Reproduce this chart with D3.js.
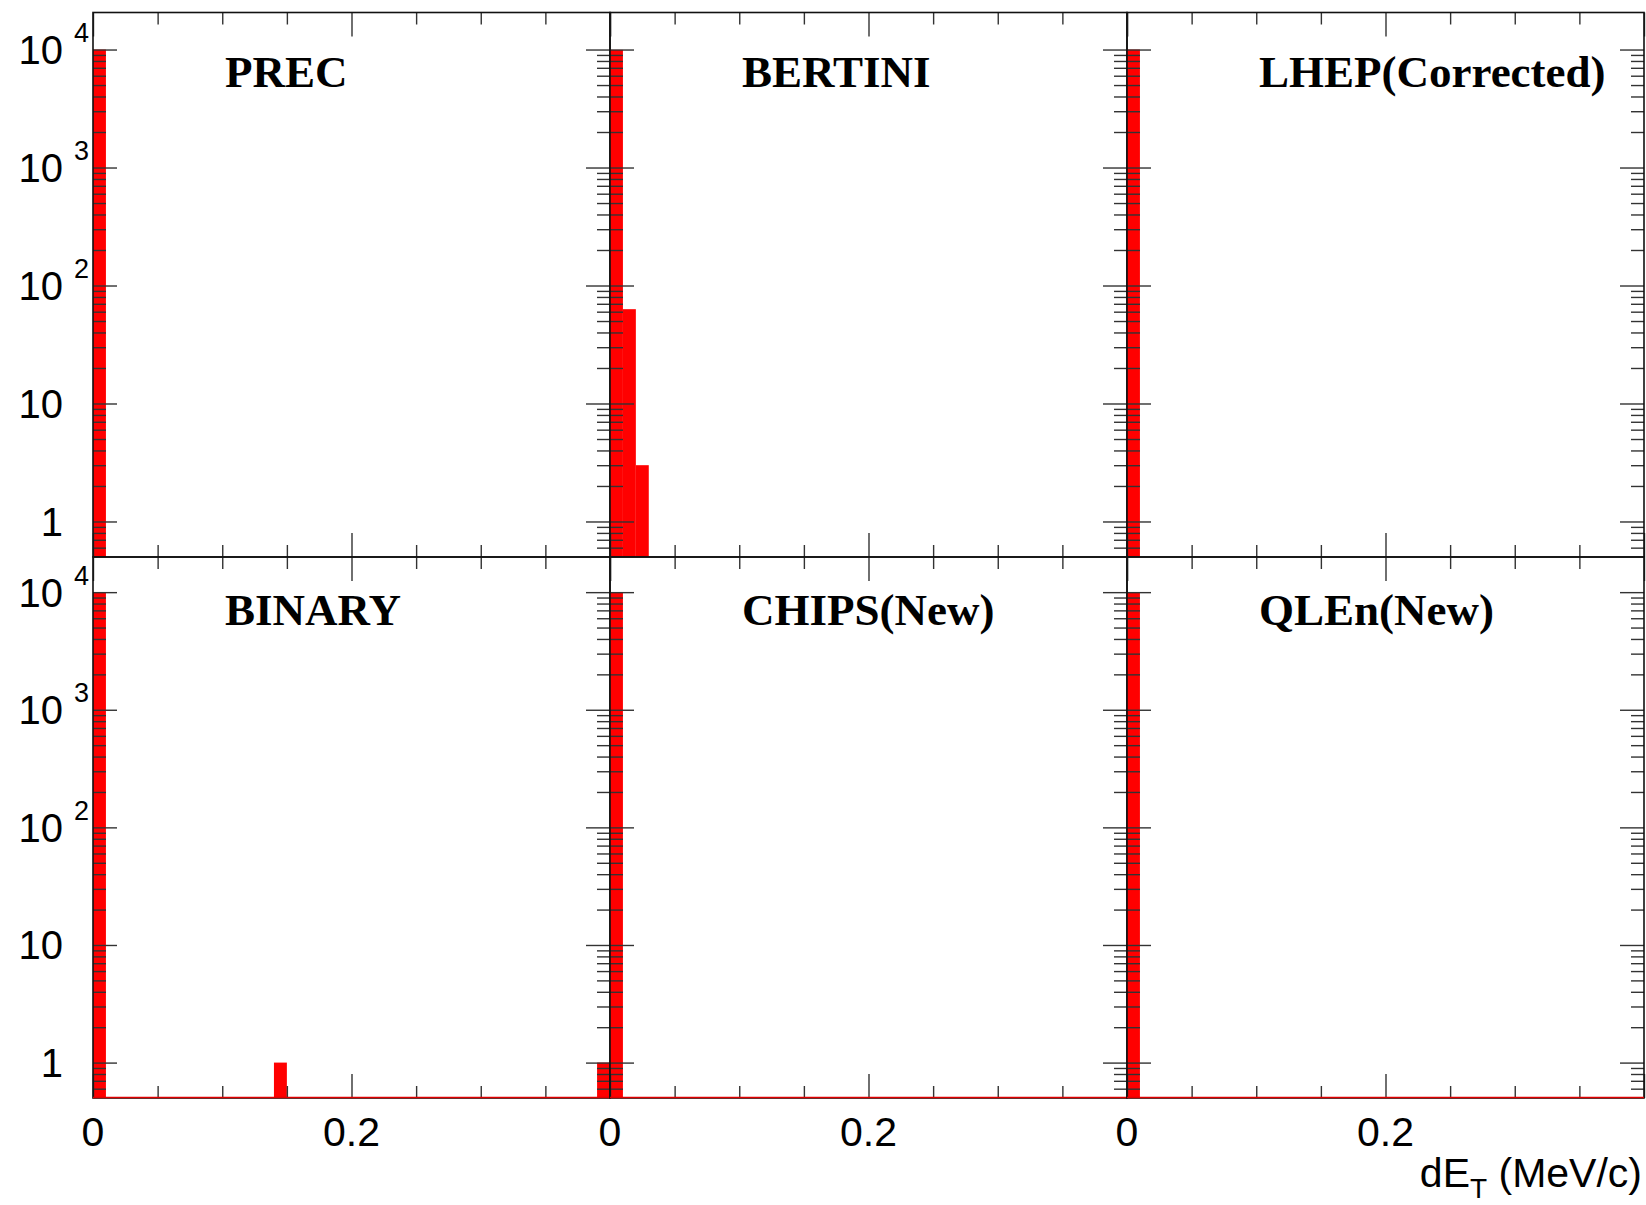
<!DOCTYPE html>
<html>
<head>
<meta charset="utf-8">
<script src="https://cdn.jsdelivr.net/npm/d3@7"></script>
<style>
html,body{margin:0;padding:0;background:#fff;}
svg{display:block;}
</style>
</head>
<body>
<svg id="chart" width="1646" height="1205"></svg>
<script>
// ---------- data ----------
const panelTitles = ["PREC", "BERTINI", "LHEP(Corrected)", "BINARY", "CHIPS(New)", "QLEn(New)"];
const binWidth = 0.01;
const precBins = [0.00],              precCounts = [10000];
const bertiniBins = [0.00, 0.01, 0.02], bertiniCounts = [9934, 63, 3];
const lhepBins = [0.00],              lhepCounts = [10000];
const binaryBins = [0.00, 0.14, 0.39], binaryCounts = [9998, 1, 1];
const chipsBins = [0.00],             chipsCounts = [10000];
const qlenBins = [0.00],              qlenCounts = [10000];

const xDomain = [0, 0.4];
const xMajorTicks = [0, 0.2, 0.4];
const xMinorTicks = [0.05, 0.1, 0.15, 0.25, 0.3, 0.35];
const xLabelTicks = [0, 0.2];
const xTickLabels = ["0", "0.2"];
const yMin = 0.5, yMaxTop = 2.06e4, yMaxBottom = 1.99e4;
const yMajorTicks = [1, 10, 100, 1000, 10000];
const yLabelBase = ["1", "10", "10", "10", "10"];
const yLabelExp = ["", "", "2", "3", "4"];
const xTitleMain = "dE", xTitleSub = "T", xTitleUnit = " (MeV/c)";

const binsList = [precBins, bertiniBins, lhepBins, binaryBins, chipsBins, qlenBins];
const countsList = [precCounts, bertiniCounts, lhepCounts, binaryCounts, chipsCounts, qlenCounts];

// ---------- layout ----------
const colX = [93, 610, 1127];
const panelW = 517;
const rowY = [[12.5, 557], [557, 1098]];
const titleBaseline = [87, 625];

// minor log ticks
const yMinorTicks = [];
for (let d = -1; d < 4; d++) {
  for (let k = 2; k <= 9; k++) {
    const v = k * Math.pow(10, d);
    if (v > yMin && v < 1e4) yMinorTicks.push(v);
  }
}

const svg = d3.select("#chart");
svg.append("rect").attr("width", 1646).attr("height", 1205).attr("fill", "#fff");

const tickColor = "#333";
function styleAxis(g) {
  g.select(".domain").remove();
  g.selectAll(".tick line").attr("stroke", tickColor).attr("stroke-width", 1.4);
  g.selectAll(".tick text").remove();
}

for (let i = 0; i < 6; i++) {
  const row = Math.floor(i / 3), col = i % 3;
  const x0 = colX[col], x1 = x0 + panelW;
  const [yTop, yBot] = rowY[row];
  const x = d3.scaleLinear().domain(xDomain).range([x0, x1]);
  const y = d3.scaleLog().domain([yMin, row === 0 ? yMaxTop : yMaxBottom]).range([yBot, yTop]);
  const g = svg.append("g");

  // bars
  const data = binsList[i].map((b, j) => ({b: b, n: countsList[i][j]}));
  g.selectAll("rect.bar").data(data).enter().append("rect")
    .attr("class", "bar")
    .attr("x", d => x(d.b))
    .attr("width", d => x(d.b + binWidth) - x(d.b))
    .attr("y", d => y(d.n))
    .attr("height", d => y(yMin) - y(d.n))
    .attr("fill", "#ff0000");

  // ticks
  g.append("g").attr("transform", `translate(0,${yBot})`)
    .call(d3.axisBottom(x).tickValues(xMajorTicks).tickSize(-24)).call(styleAxis);
  g.append("g").attr("transform", `translate(0,${yBot})`)
    .call(d3.axisBottom(x).tickValues(xMinorTicks).tickSize(-12)).call(styleAxis);
  g.append("g").attr("transform", `translate(0,${yTop})`)
    .call(d3.axisTop(x).tickValues(xMajorTicks).tickSize(-24)).call(styleAxis);
  g.append("g").attr("transform", `translate(0,${yTop})`)
    .call(d3.axisTop(x).tickValues(xMinorTicks).tickSize(-12)).call(styleAxis);
  g.append("g").attr("transform", `translate(${x0},0)`)
    .call(d3.axisLeft(y).tickValues(yMajorTicks).tickSize(-24)).call(styleAxis);
  g.append("g").attr("transform", `translate(${x0},0)`)
    .call(d3.axisLeft(y).tickValues(yMinorTicks).tickSize(-13)).call(styleAxis);
  g.append("g").attr("transform", `translate(${x1},0)`)
    .call(d3.axisRight(y).tickValues(yMajorTicks).tickSize(-24)).call(styleAxis);
  g.append("g").attr("transform", `translate(${x1},0)`)
    .call(d3.axisRight(y).tickValues(yMinorTicks).tickSize(-13)).call(styleAxis);

  // frame
  g.append("rect").attr("x", x0).attr("y", yTop).attr("width", panelW).attr("height", yBot - yTop)
    .attr("fill", "none").attr("stroke", "#111").attr("stroke-width", 1.6);

  // histogram baseline (zero bins drawn at the minimum)
  if (row === 1) {
    g.append("line").attr("x1", x0).attr("x2", x1).attr("y1", yBot - 0.5).attr("y2", yBot - 0.5)
      .attr("stroke", "#e00000").attr("stroke-width", 1.6);
  }

  // title
  g.append("text").attr("x", x0 + 132).attr("y", titleBaseline[row])
    .attr("font-family", "'Liberation Serif', 'Times New Roman', serif")
    .attr("font-weight", "bold").attr("font-size", 45).attr("fill", "#000")
    .text(panelTitles[i]);

  // y labels (first column only)
  if (col === 0) {
    yMajorTicks.forEach((v, j) => {
      const ty = y(v);
      g.append("text").attr("x", 63).attr("y", ty + 14.5)
        .attr("text-anchor", "end")
        .attr("font-family", "'Liberation Sans', Arial, sans-serif")
        .attr("font-size", 40).attr("fill", "#000")
        .text(yLabelBase[j]);
      if (yLabelExp[j]) {
        g.append("text").attr("x", 74).attr("y", ty - 7.5)
          .attr("font-family", "'Liberation Sans', Arial, sans-serif")
          .attr("font-size", 27).attr("fill", "#000")
          .text(yLabelExp[j]);
      }
    });
  }

  // x labels (bottom row only)
  if (row === 1) {
    xLabelTicks.forEach((v, j) => {
      g.append("text").attr("x", x(v)).attr("y", 1146)
        .attr("text-anchor", "middle")
        .attr("font-family", "'Liberation Sans', Arial, sans-serif")
        .attr("font-size", 41).attr("fill", "#000")
        .text(xTickLabels[j]);
    });
  }
}

// x axis title
const t = svg.append("text").attr("x", 1642).attr("y", 1187)
  .attr("text-anchor", "end")
  .attr("font-family", "'Liberation Sans', Arial, sans-serif")
  .attr("font-size", 41).attr("fill", "#000");
t.append("tspan").text(xTitleMain);
t.append("tspan").attr("font-size", 28).attr("dy", 11).text(xTitleSub);
t.append("tspan").attr("dy", -11).text(xTitleUnit);
</script>
</body>
</html>
